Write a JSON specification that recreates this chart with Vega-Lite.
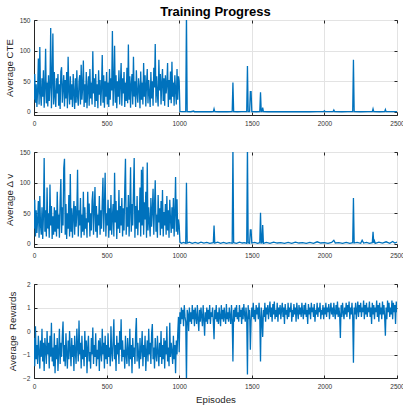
{
"$schema":"https://vega.github.io/schema/vega-lite/v6.json",
"padding":{"left":3,"top":5,"right":0,"bottom":2},
"background":"white",
"spacing":37,
"bounds":"flush",
"datasets":{
"cte":[{"e":0,"v":20},{"e":5,"v":62},{"e":10,"v":15},{"e":15,"v":45},{"e":20,"v":8},{"e":25,"v":35},{"e":30,"v":87},{"e":35,"v":12},{"e":40,"v":106},{"e":45,"v":30},
{"e":50,"v":10},{"e":55,"v":55},{"e":60,"v":25},{"e":65,"v":68},{"e":70,"v":7},{"e":75,"v":40},{"e":80,"v":103},{"e":85,"v":14},{"e":90,"v":48},{"e":95,"v":9},
{"e":100,"v":60},{"e":105,"v":18},{"e":110,"v":42},{"e":115,"v":137},{"e":120,"v":6},{"e":125,"v":50},{"e":130,"v":128},{"e":135,"v":12},{"e":140,"v":65},{"e":145,"v":25},
{"e":150,"v":8},{"e":155,"v":55},{"e":160,"v":30},{"e":165,"v":62},{"e":170,"v":10},{"e":175,"v":45},{"e":180,"v":5},{"e":185,"v":66},{"e":190,"v":73},{"e":195,"v":15},
{"e":200,"v":40},{"e":205,"v":60},{"e":210,"v":9},{"e":215,"v":52},{"e":220,"v":22},{"e":225,"v":65},{"e":230,"v":6},{"e":235,"v":90},{"e":240,"v":35},{"e":245,"v":12},
{"e":250,"v":58},{"e":255,"v":20},{"e":260,"v":45},{"e":265,"v":8},{"e":270,"v":62},{"e":275,"v":30},{"e":280,"v":5},{"e":285,"v":55},{"e":290,"v":15},{"e":295,"v":68},
{"e":300,"v":25},{"e":305,"v":10},{"e":310,"v":50},{"e":315,"v":60},{"e":320,"v":12},{"e":325,"v":77},{"e":330,"v":20},{"e":335,"v":40},{"e":340,"v":84},{"e":345,"v":8},
{"e":350,"v":45},{"e":355,"v":15},{"e":360,"v":65},{"e":365,"v":6},{"e":370,"v":38},{"e":375,"v":58},{"e":380,"v":10},{"e":385,"v":70},{"e":390,"v":22},{"e":395,"v":48},
{"e":400,"v":12},{"e":405,"v":99},{"e":410,"v":30},{"e":415,"v":55},{"e":420,"v":8},{"e":425,"v":62},{"e":430,"v":18},{"e":435,"v":45},{"e":440,"v":6},{"e":445,"v":68},
{"e":450,"v":28},{"e":455,"v":52},{"e":460,"v":10},{"e":465,"v":40},{"e":470,"v":93},{"e":475,"v":15},{"e":480,"v":60},{"e":485,"v":7},{"e":490,"v":50},{"e":495,"v":25},
{"e":500,"v":65},{"e":505,"v":12},{"e":510,"v":48},{"e":515,"v":8},{"e":520,"v":70},{"e":525,"v":20},{"e":530,"v":55},{"e":535,"v":35},{"e":540,"v":132},{"e":545,"v":10},
{"e":550,"v":42},{"e":555,"v":108},{"e":560,"v":15},{"e":565,"v":60},{"e":570,"v":6},{"e":575,"v":50},{"e":580,"v":25},{"e":585,"v":68},{"e":590,"v":12},{"e":595,"v":45},
{"e":600,"v":80},{"e":605,"v":10},{"e":610,"v":55},{"e":615,"v":30},{"e":620,"v":65},{"e":625,"v":8},{"e":630,"v":48},{"e":635,"v":18},{"e":640,"v":72},{"e":645,"v":14},
{"e":650,"v":110},{"e":655,"v":20},{"e":660,"v":58},{"e":665,"v":7},{"e":670,"v":45},{"e":675,"v":62},{"e":680,"v":12},{"e":685,"v":90},{"e":690,"v":25},{"e":695,"v":50},
{"e":700,"v":8},{"e":705,"v":68},{"e":710,"v":30},{"e":715,"v":15},{"e":720,"v":55},{"e":725,"v":40},{"e":730,"v":6},{"e":735,"v":66},{"e":740,"v":20},{"e":745,"v":48},
{"e":750,"v":12},{"e":755,"v":80},{"e":760,"v":25},{"e":765,"v":60},{"e":770,"v":9},{"e":775,"v":45},{"e":780,"v":70},{"e":785,"v":14},{"e":790,"v":52},{"e":795,"v":30},
{"e":800,"v":8},{"e":805,"v":65},{"e":810,"v":22},{"e":815,"v":50},{"e":820,"v":10},{"e":825,"v":72},{"e":830,"v":40},{"e":835,"v":111},{"e":840,"v":15},{"e":845,"v":58},
{"e":850,"v":28},{"e":855,"v":9},{"e":860,"v":85},{"e":865,"v":35},{"e":870,"v":62},{"e":875,"v":12},{"e":880,"v":48},{"e":885,"v":70},{"e":890,"v":18},{"e":895,"v":55},
{"e":900,"v":10},{"e":905,"v":60},{"e":910,"v":30},{"e":915,"v":45},{"e":920,"v":80},{"e":925,"v":8},{"e":930,"v":52},{"e":935,"v":20},{"e":940,"v":66},{"e":945,"v":14},
{"e":950,"v":82},{"e":955,"v":25},{"e":960,"v":48},{"e":965,"v":10},{"e":970,"v":60},{"e":975,"v":35},{"e":980,"v":12},{"e":985,"v":70},{"e":990,"v":20},{"e":995,"v":58},
{"e":1000,"v":50},{"e":1005,"v":1},{"e":1020,"v":0.5},{"e":1045,"v":0.5},{"e":1050,"v":160},{"e":1055,"v":0.5},{"e":1080,"v":0.3},{"e":1100,"v":1.5},{"e":1105,"v":0.3},{"e":1130,"v":0.5},{"e":1160,"v":0.3},{"e":1190,"v":0.5},{"e":1220,"v":0.3},{"e":1235,"v":0.5},{"e":1240,"v":5},{"e":1245,"v":0.5},{"e":1270,"v":0.3},{"e":1300,"v":0.6},{"e":1330,"v":0.3},{"e":1365,"v":0.5},{"e":1370,"v":48},{"e":1375,"v":0.5},{"e":1400,"v":0.3},{"e":1430,"v":0.6},{"e":1465,"v":0.5},{"e":1470,"v":75},{"e":1475,"v":0.4},{"e":1485,"v":0.5},{"e":1490,"v":33},{"e":1495,"v":33},{"e":1500,"v":0.5},{"e":1530,"v":0.3},{"e":1555,"v":0.5},{"e":1560,"v":32},{"e":1565,"v":0.5},{"e":1570,"v":0.5},{"e":1575,"v":7},{"e":1580,"v":0.5},{"e":1610,"v":0.3},{"e":1650,"v":0.5},{"e":1700,"v":0.3},{"e":1750,"v":0.6},{"e":1800,"v":0.3},{"e":1850,"v":0.5},{"e":1900,"v":0.3},{"e":1950,"v":0.5},{"e":1995,"v":0.5},{"e":2000,"v":2},{"e":2005,"v":0.5},{"e":2060,"v":0.5},{"e":2065,"v":3},{"e":2070,"v":0.5},{"e":2120,"v":0.3},{"e":2160,"v":0.5},{"e":2195,"v":0.5},{"e":2200,"v":85},{"e":2205,"v":0.5},{"e":2250,"v":0.3},{"e":2300,"v":0.5},{"e":2330,"v":0.5},{"e":2335,"v":5},{"e":2340,"v":0.5},{"e":2380,"v":0.3},{"e":2415,"v":0.5},{"e":2420,"v":4},{"e":2425,"v":0.5},{"e":2460,"v":0.4},{"e":2500,"v":0.5}],
"dv":[{"e":0,"v":25},{"e":5,"v":72},{"e":10,"v":12},{"e":15,"v":55},{"e":20,"v":18},{"e":25,"v":40},{"e":30,"v":70},{"e":35,"v":10},{"e":40,"v":78},{"e":45,"v":30},
{"e":50,"v":15},{"e":55,"v":60},{"e":60,"v":8},{"e":65,"v":45},{"e":70,"v":140},{"e":75,"v":20},{"e":80,"v":55},{"e":85,"v":12},{"e":90,"v":92},{"e":95,"v":25},
{"e":100,"v":50},{"e":105,"v":10},{"e":110,"v":97},{"e":115,"v":30},{"e":120,"v":62},{"e":125,"v":8},{"e":130,"v":45},{"e":135,"v":15},{"e":140,"v":60},{"e":145,"v":20},
{"e":150,"v":55},{"e":155,"v":12},{"e":160,"v":85},{"e":165,"v":25},{"e":170,"v":48},{"e":175,"v":10},{"e":180,"v":70},{"e":185,"v":106},{"e":190,"v":18},{"e":195,"v":60},
{"e":200,"v":30},{"e":205,"v":124},{"e":210,"v":139},{"e":215,"v":15},{"e":220,"v":65},{"e":225,"v":8},{"e":230,"v":50},{"e":235,"v":25},{"e":240,"v":80},{"e":245,"v":12},
{"e":250,"v":114},{"e":255,"v":20},{"e":260,"v":58},{"e":265,"v":10},{"e":270,"v":45},{"e":275,"v":70},{"e":280,"v":15},{"e":285,"v":62},{"e":290,"v":28},{"e":295,"v":50},
{"e":300,"v":121},{"e":305,"v":12},{"e":310,"v":55},{"e":315,"v":30},{"e":320,"v":75},{"e":325,"v":10},{"e":330,"v":48},{"e":335,"v":20},{"e":340,"v":85},{"e":345,"v":14},
{"e":350,"v":60},{"e":355,"v":25},{"e":360,"v":42},{"e":365,"v":10},{"e":370,"v":85},{"e":375,"v":35},{"e":380,"v":66},{"e":385,"v":12},{"e":390,"v":50},{"e":395,"v":22},
{"e":400,"v":70},{"e":405,"v":86},{"e":410,"v":15},{"e":415,"v":55},{"e":420,"v":93},{"e":425,"v":20},{"e":430,"v":62},{"e":435,"v":10},{"e":440,"v":48},{"e":445,"v":30},
{"e":450,"v":78},{"e":455,"v":15},{"e":460,"v":55},{"e":465,"v":25},{"e":470,"v":68},{"e":475,"v":108},{"e":480,"v":20},{"e":485,"v":60},{"e":490,"v":116},{"e":495,"v":12},
{"e":500,"v":50},{"e":505,"v":30},{"e":510,"v":72},{"e":515,"v":10},{"e":520,"v":58},{"e":525,"v":22},{"e":530,"v":80},{"e":535,"v":15},{"e":540,"v":45},{"e":545,"v":65},
{"e":550,"v":12},{"e":555,"v":116},{"e":560,"v":35},{"e":565,"v":70},{"e":570,"v":8},{"e":575,"v":55},{"e":580,"v":25},{"e":585,"v":88},{"e":590,"v":18},{"e":595,"v":62},
{"e":600,"v":30},{"e":605,"v":75},{"e":610,"v":12},{"e":615,"v":58},{"e":620,"v":22},{"e":625,"v":90},{"e":630,"v":139},{"e":635,"v":15},{"e":640,"v":60},{"e":645,"v":28},
{"e":650,"v":80},{"e":655,"v":12},{"e":660,"v":55},{"e":665,"v":125},{"e":670,"v":20},{"e":675,"v":65},{"e":680,"v":30},{"e":685,"v":85},{"e":690,"v":140},{"e":695,"v":10},
{"e":700,"v":62},{"e":705,"v":25},{"e":710,"v":78},{"e":715,"v":14},{"e":720,"v":55},{"e":725,"v":35},{"e":730,"v":92},{"e":735,"v":12},{"e":740,"v":121},{"e":745,"v":30},
{"e":750,"v":126},{"e":755,"v":15},{"e":760,"v":68},{"e":765,"v":40},{"e":770,"v":85},{"e":775,"v":10},{"e":780,"v":133},{"e":785,"v":22},{"e":790,"v":60},{"e":795,"v":35},
{"e":800,"v":12},{"e":805,"v":75},{"e":810,"v":28},{"e":815,"v":55},{"e":820,"v":90},{"e":825,"v":15},{"e":830,"v":62},{"e":835,"v":104},{"e":840,"v":20},{"e":845,"v":48},
{"e":850,"v":10},{"e":855,"v":80},{"e":860,"v":35},{"e":865,"v":58},{"e":870,"v":14},{"e":875,"v":70},{"e":880,"v":25},{"e":885,"v":88},{"e":890,"v":12},{"e":895,"v":52},
{"e":900,"v":30},{"e":905,"v":65},{"e":910,"v":15},{"e":915,"v":78},{"e":920,"v":22},{"e":925,"v":55},{"e":930,"v":10},{"e":935,"v":72},{"e":940,"v":40},{"e":945,"v":18},
{"e":950,"v":60},{"e":955,"v":25},{"e":960,"v":75},{"e":965,"v":12},{"e":970,"v":50},{"e":975,"v":109},{"e":980,"v":20},{"e":985,"v":73},{"e":990,"v":15},{"e":995,"v":40},
{"e":1000,"v":30},{"e":1005,"v":3},{"e":1015,"v":1},{"e":1030,"v":2.5},{"e":1045,"v":1},{"e":1050,"v":100},{"e":1055,"v":1.5},{"e":1070,"v":3},{"e":1090,"v":1},{"e":1110,"v":2.5},{"e":1130,"v":1},{"e":1150,"v":3},{"e":1170,"v":1.5},{"e":1190,"v":2.5},{"e":1210,"v":1},{"e":1235,"v":2},{"e":1240,"v":30},{"e":1245,"v":1.5},{"e":1265,"v":3},{"e":1285,"v":1},{"e":1305,"v":2.5},{"e":1325,"v":1},{"e":1345,"v":2},{"e":1365,"v":1},{"e":1370,"v":160},{"e":1375,"v":2},{"e":1395,"v":1},{"e":1415,"v":3},{"e":1435,"v":1.5},{"e":1450,"v":2},{"e":1465,"v":1},{"e":1470,"v":160},{"e":1475,"v":2},{"e":1485,"v":1},{"e":1490,"v":23},{"e":1495,"v":23},{"e":1500,"v":1.5},{"e":1520,"v":2.5},{"e":1540,"v":1},{"e":1555,"v":2},{"e":1560,"v":51},{"e":1565,"v":1.5},{"e":1570,"v":2},{"e":1575,"v":31},{"e":1580,"v":1},{"e":1600,"v":2.5},{"e":1625,"v":1},{"e":1650,"v":3},{"e":1675,"v":1.5},{"e":1700,"v":2},{"e":1725,"v":1},{"e":1750,"v":2.5},{"e":1775,"v":1},{"e":1800,"v":3},{"e":1825,"v":1.5},{"e":1850,"v":2},{"e":1875,"v":1},{"e":1900,"v":2.5},{"e":1925,"v":1},{"e":1950,"v":3.5},{"e":1975,"v":1.5},{"e":2000,"v":2},{"e":2025,"v":1},{"e":2050,"v":2.5},{"e":2065,"v":6},{"e":2075,"v":1.5},{"e":2100,"v":2},{"e":2125,"v":1},{"e":2150,"v":2.5},{"e":2175,"v":1},{"e":2195,"v":2},{"e":2200,"v":75},{"e":2205,"v":1.5},{"e":2225,"v":2.5},{"e":2250,"v":1},{"e":2260,"v":6},{"e":2270,"v":1.5},{"e":2290,"v":2.5},{"e":2310,"v":1},{"e":2330,"v":2},{"e":2335,"v":20},{"e":2340,"v":1.5},{"e":2345,"v":5},{"e":2350,"v":1},{"e":2375,"v":3},{"e":2400,"v":1.5},{"e":2425,"v":3.5},{"e":2450,"v":1},{"e":2470,"v":4},{"e":2485,"v":1.5},{"e":2500,"v":3}],
"rw":[{"e":0,"v":-0.3},{"e":5,"v":-1.5},{"e":10,"v":0.2},{"e":15,"v":-1.2},{"e":20,"v":-0.6},{"e":25,"v":-1.4},{"e":30,"v":-0.2},{"e":35,"v":-0.9},{"e":40,"v":-1.6},{"e":45,"v":-0.4},
{"e":50,"v":-1.1},{"e":55,"v":0.1},{"e":60,"v":-1.3},{"e":65,"v":-0.5},{"e":70,"v":-1.7},{"e":75,"v":-0.3},{"e":80,"v":-0.8},{"e":85,"v":-1.4},{"e":90,"v":0.0},{"e":95,"v":-1.0},
{"e":100,"v":-0.5},{"e":105,"v":-1.6},{"e":110,"v":-0.2},{"e":115,"v":-1.1},{"e":120,"v":0.35},{"e":125,"v":-1.3},{"e":130,"v":-0.7},{"e":135,"v":-1.5},{"e":140,"v":-0.1},{"e":145,"v":-1.8},
{"e":150,"v":-0.6},{"e":155,"v":-1.2},{"e":160,"v":-0.3},{"e":165,"v":-1.7},{"e":170,"v":-0.9},{"e":175,"v":0.1},{"e":180,"v":-1.4},{"e":185,"v":-0.5},{"e":190,"v":-1.1},{"e":195,"v":-0.2},
{"e":200,"v":0.4},{"e":205,"v":-1.3},{"e":210,"v":-0.6},{"e":215,"v":-1.5},{"e":220,"v":-0.1},{"e":225,"v":-1.0},{"e":230,"v":-1.6},{"e":235,"v":-0.4},{"e":240,"v":-1.2},{"e":245,"v":0.0},
{"e":250,"v":-0.8},{"e":255,"v":-1.5},{"e":260,"v":-0.3},{"e":265,"v":-1.1},{"e":270,"v":-0.6},{"e":275,"v":-1.7},{"e":280,"v":-0.2},{"e":285,"v":-0.9},{"e":290,"v":-1.4},{"e":295,"v":0.1},
{"e":300,"v":-0.7},{"e":305,"v":-1.3},{"e":310,"v":0.45},{"e":315,"v":-1.0},{"e":320,"v":-0.5},{"e":325,"v":-1.6},{"e":330,"v":-0.2},{"e":335,"v":-1.2},{"e":340,"v":-0.8},{"e":345,"v":-1.5},
{"e":350,"v":0.0},{"e":355,"v":-1.1},{"e":360,"v":-0.4},{"e":365,"v":-1.8},{"e":370,"v":-0.7},{"e":375,"v":-0.2},{"e":380,"v":-1.3},{"e":385,"v":-0.9},{"e":390,"v":-1.6},{"e":395,"v":-0.3},
{"e":400,"v":-1.0},{"e":405,"v":0.15},{"e":410,"v":-1.4},{"e":415,"v":-0.6},{"e":420,"v":-1.1},{"e":425,"v":-0.1},{"e":430,"v":-1.5},{"e":435,"v":-0.8},{"e":440,"v":-1.2},{"e":445,"v":-0.4},
{"e":450,"v":-1.7},{"e":455,"v":-0.3},{"e":460,"v":-0.9},{"e":465,"v":-1.3},{"e":470,"v":0.1},{"e":475,"v":-1.0},{"e":480,"v":-0.5},{"e":485,"v":-1.6},{"e":490,"v":-0.2},{"e":495,"v":-1.2},
{"e":500,"v":-0.6},{"e":505,"v":-1.4},{"e":510,"v":-0.1},{"e":515,"v":-1.1},{"e":520,"v":-0.7},{"e":525,"v":-1.5},{"e":530,"v":0.2},{"e":535,"v":-0.9},{"e":540,"v":-1.3},{"e":545,"v":-0.4},
{"e":550,"v":0.5},{"e":555,"v":-1.2},{"e":560,"v":-0.6},{"e":565,"v":-1.7},{"e":570,"v":-0.2},{"e":575,"v":-1.0},{"e":580,"v":-0.5},{"e":585,"v":-1.4},{"e":590,"v":0.0},{"e":595,"v":-0.8},
{"e":600,"v":0.5},{"e":605,"v":-1.3},{"e":610,"v":-0.4},{"e":615,"v":-1.1},{"e":620,"v":-0.8},{"e":625,"v":-1.6},{"e":630,"v":-0.2},{"e":635,"v":-1.0},{"e":640,"v":-1.4},{"e":645,"v":-0.3},
{"e":650,"v":-0.9},{"e":655,"v":-1.5},{"e":660,"v":0.1},{"e":665,"v":-1.2},{"e":670,"v":-0.6},{"e":675,"v":-1.8},{"e":680,"v":-0.3},{"e":685,"v":-1.1},{"e":690,"v":-0.7},{"e":695,"v":-1.4},
{"e":700,"v":-0.1},{"e":705,"v":0.55},{"e":710,"v":-1.3},{"e":715,"v":-0.5},{"e":720,"v":-1.0},{"e":725,"v":-1.6},{"e":730,"v":-0.3},{"e":735,"v":-1.2},{"e":740,"v":-0.8},{"e":745,"v":0.0},
{"e":750,"v":-1.5},{"e":755,"v":-0.6},{"e":760,"v":-1.1},{"e":765,"v":-0.2},{"e":770,"v":-1.7},{"e":775,"v":-0.9},{"e":780,"v":-0.4},{"e":785,"v":-1.3},{"e":790,"v":0.1},{"e":795,"v":-1.0},
{"e":800,"v":-0.5},{"e":805,"v":-1.4},{"e":810,"v":-0.1},{"e":815,"v":0.3},{"e":820,"v":-1.2},{"e":825,"v":-0.7},{"e":830,"v":-1.6},{"e":835,"v":-0.3},{"e":840,"v":-1.0},{"e":845,"v":-1.3},
{"e":850,"v":-0.2},{"e":855,"v":-0.9},{"e":860,"v":-1.5},{"e":865,"v":-0.5},{"e":870,"v":-1.1},{"e":875,"v":0.0},{"e":880,"v":-1.4},{"e":885,"v":-0.6},{"e":890,"v":-1.2},{"e":895,"v":-0.3},
{"e":900,"v":-1.6},{"e":905,"v":-0.4},{"e":910,"v":-1.0},{"e":915,"v":0.2},{"e":920,"v":-1.3},{"e":925,"v":-0.7},{"e":930,"v":-1.5},{"e":935,"v":0.35},{"e":940,"v":-1.1},{"e":945,"v":-0.5},
{"e":950,"v":-0.9},{"e":955,"v":-1.4},{"e":960,"v":-0.2},{"e":965,"v":-1.2},{"e":970,"v":-0.6},{"e":975,"v":-1.8},{"e":980,"v":-0.4},{"e":985,"v":-1.0},{"e":990,"v":-0.1},{"e":995,"v":0.6},
{"e":1000,"v":-0.9},
{"e":1005,"v":0.8},{"e":1010,"v":0.3},{"e":1015,"v":1.0},{"e":1020,"v":0.5},{"e":1025,"v":0.9},{"e":1030,"v":0.2},{"e":1035,"v":1.1},{"e":1040,"v":0.6},{"e":1045,"v":0.4},{"e":1050,"v":-2.2},
{"e":1055,"v":0.9},{"e":1060,"v":0.7},{"e":1065,"v":0.0},{"e":1070,"v":1.0},{"e":1075,"v":0.4},{"e":1080,"v":0.8},{"e":1085,"v":0.3},{"e":1090,"v":1.1},{"e":1095,"v":0.5},{"e":1100,"v":0.9},
{"e":1105,"v":0.2},{"e":1110,"v":1.0},{"e":1115,"v":0.6},{"e":1120,"v":0.3},{"e":1125,"v":1.1},{"e":1130,"v":0.5},{"e":1135,"v":0.0},{"e":1140,"v":0.9},{"e":1145,"v":0.4},{"e":1150,"v":1.0},
{"e":1155,"v":0.6},{"e":1160,"v":0.2},{"e":1165,"v":1.1},{"e":1170,"v":0.5},{"e":1175,"v":-0.2},{"e":1180,"v":0.8},{"e":1185,"v":0.4},{"e":1190,"v":1.0},{"e":1195,"v":0.3},{"e":1200,"v":0.9},
{"e":1205,"v":0.5},{"e":1210,"v":1.1},{"e":1215,"v":0.3},{"e":1220,"v":0.8},{"e":1225,"v":0.6},{"e":1230,"v":1.0},{"e":1235,"v":0.4},{"e":1240,"v":-0.35},{"e":1245,"v":0.9},{"e":1250,"v":0.5},
{"e":1255,"v":1.1},{"e":1260,"v":0.4},{"e":1265,"v":0.8},{"e":1270,"v":0.3},{"e":1275,"v":1.0},{"e":1280,"v":0.6},{"e":1285,"v":0.2},{"e":1290,"v":1.1},{"e":1295,"v":0.5},{"e":1300,"v":0.9},
{"e":1305,"v":0.4},{"e":1310,"v":1.0},{"e":1315,"v":0.6},{"e":1320,"v":0.3},{"e":1325,"v":1.15},{"e":1330,"v":0.5},{"e":1335,"v":0.8},{"e":1340,"v":0.4},{"e":1345,"v":1.0},{"e":1350,"v":0.6},
{"e":1355,"v":0.3},{"e":1360,"v":1.1},{"e":1365,"v":0.5},{"e":1370,"v":-1.3},{"e":1375,"v":0.9},{"e":1380,"v":0.4},{"e":1385,"v":1.0},{"e":1390,"v":0.6},{"e":1395,"v":1.1},{"e":1400,"v":0.5},
{"e":1405,"v":0.8},{"e":1410,"v":0.4},{"e":1415,"v":1.1},{"e":1420,"v":0.6},{"e":1425,"v":0.9},{"e":1430,"v":0.3},{"e":1435,"v":1.0},{"e":1440,"v":0.5},{"e":1445,"v":1.15},{"e":1450,"v":0.7},
{"e":1455,"v":0.4},{"e":1460,"v":1.0},{"e":1465,"v":0.6},{"e":1470,"v":-1.85},{"e":1475,"v":1.1},{"e":1480,"v":0.5},{"e":1485,"v":0.9},{"e":1490,"v":-0.8},{"e":1495,"v":0.4},{"e":1500,"v":1.0},
{"e":1505,"v":0.6},{"e":1510,"v":1.2},{"e":1515,"v":0.5},{"e":1520,"v":0.9},{"e":1525,"v":0.4},{"e":1530,"v":1.1},{"e":1535,"v":0.7},{"e":1540,"v":1.0},{"e":1545,"v":0.5},{"e":1550,"v":1.2},
{"e":1555,"v":0.6},{"e":1560,"v":-1.3},{"e":1565,"v":1.0},{"e":1570,"v":0.5},{"e":1575,"v":-0.25},{"e":1580,"v":0.9},{"e":1585,"v":0.6},{"e":1590,"v":1.2},{"e":1595,"v":0.4},{"e":1600,"v":1.0},
{"e":1605,"v":0.7},{"e":1610,"v":1.1},{"e":1615,"v":0.5},{"e":1620,"v":0.9},{"e":1625,"v":1.25},{"e":1630,"v":0.6},{"e":1635,"v":1.0},{"e":1640,"v":0.4},{"e":1645,"v":1.15},{"e":1650,"v":0.7},
{"e":1655,"v":1.25},{"e":1660,"v":0.5},{"e":1665,"v":0.9},{"e":1670,"v":0.6},{"e":1675,"v":1.2},{"e":1680,"v":0.4},{"e":1685,"v":1.0},{"e":1690,"v":0.7},{"e":1695,"v":1.1},{"e":1700,"v":0.5},
{"e":1705,"v":0.9},{"e":1710,"v":1.2},{"e":1715,"v":0.6},{"e":1720,"v":1.0},{"e":1725,"v":0.3},{"e":1730,"v":1.15},{"e":1735,"v":0.7},{"e":1740,"v":0.9},{"e":1745,"v":0.5},{"e":1750,"v":1.2},
{"e":1755,"v":0.6},{"e":1760,"v":1.0},{"e":1765,"v":0.8},{"e":1770,"v":1.2},{"e":1775,"v":0.4},{"e":1780,"v":0.9},{"e":1785,"v":0.6},{"e":1790,"v":1.15},{"e":1795,"v":0.7},{"e":1800,"v":1.0},
{"e":1805,"v":0.4},{"e":1810,"v":1.2},{"e":1815,"v":0.8},{"e":1820,"v":0.5},{"e":1825,"v":1.1},{"e":1830,"v":0.7},{"e":1835,"v":1.0},{"e":1840,"v":0.6},{"e":1845,"v":1.2},{"e":1850,"v":0.8},
{"e":1855,"v":0.5},{"e":1860,"v":1.1},{"e":1865,"v":0.7},{"e":1870,"v":1.2},{"e":1875,"v":0.6},{"e":1880,"v":0.9},{"e":1885,"v":0.3},{"e":1890,"v":1.15},{"e":1895,"v":0.7},{"e":1900,"v":1.0},
{"e":1905,"v":0.5},{"e":1910,"v":1.2},{"e":1915,"v":0.8},{"e":1920,"v":1.0},{"e":1925,"v":0.6},{"e":1930,"v":1.15},{"e":1935,"v":0.4},{"e":1940,"v":0.9},{"e":1945,"v":0.7},{"e":1950,"v":1.2},
{"e":1955,"v":0.6},{"e":1960,"v":1.0},{"e":1965,"v":0.8},{"e":1970,"v":1.2},{"e":1975,"v":0.5},{"e":1980,"v":0.9},{"e":1985,"v":0.7},{"e":1990,"v":1.1},{"e":1995,"v":0.5},{"e":2000,"v":1.0},
{"e":2005,"v":0.7},{"e":2010,"v":1.2},{"e":2015,"v":0.6},{"e":2020,"v":1.0},{"e":2025,"v":0.8},{"e":2030,"v":1.15},{"e":2035,"v":0.5},{"e":2040,"v":0.9},{"e":2045,"v":1.2},{"e":2050,"v":0.7},
{"e":2055,"v":1.0},{"e":2060,"v":0.6},{"e":2065,"v":1.2},{"e":2070,"v":0.8},{"e":2075,"v":0.5},{"e":2080,"v":1.1},{"e":2085,"v":0.7},{"e":2090,"v":1.25},{"e":2095,"v":0.6},{"e":2100,"v":1.0},
{"e":2105,"v":0.7},{"e":2110,"v":-0.3},{"e":2115,"v":1.1},{"e":2120,"v":0.6},{"e":2125,"v":1.2},{"e":2130,"v":0.8},{"e":2135,"v":0.5},{"e":2140,"v":1.0},{"e":2145,"v":0.7},{"e":2150,"v":1.2},
{"e":2155,"v":0.6},{"e":2160,"v":1.1},{"e":2165,"v":0.8},{"e":2170,"v":1.25},{"e":2175,"v":0.5},{"e":2180,"v":1.0},{"e":2185,"v":0.7},{"e":2190,"v":1.2},{"e":2195,"v":0.6},{"e":2200,"v":-1.35},
{"e":2205,"v":1.0},{"e":2210,"v":0.7},{"e":2215,"v":1.2},{"e":2220,"v":0.5},{"e":2225,"v":0.9},{"e":2230,"v":1.25},{"e":2235,"v":0.6},{"e":2240,"v":1.1},{"e":2245,"v":0.8},{"e":2250,"v":1.2},
{"e":2255,"v":0.6},{"e":2260,"v":1.0},{"e":2265,"v":0.8},{"e":2270,"v":1.3},{"e":2275,"v":0.5},{"e":2280,"v":1.1},{"e":2285,"v":0.7},{"e":2290,"v":1.2},{"e":2295,"v":0.6},{"e":2300,"v":1.0},
{"e":2305,"v":0.8},{"e":2310,"v":1.25},{"e":2315,"v":0.6},{"e":2320,"v":1.0},{"e":2325,"v":0.3},{"e":2330,"v":1.2},{"e":2335,"v":0.7},{"e":2340,"v":1.1},{"e":2345,"v":0.5},{"e":2350,"v":1.0},
{"e":2355,"v":0.8},{"e":2360,"v":1.3},{"e":2365,"v":0.6},{"e":2370,"v":1.1},{"e":2375,"v":0.4},{"e":2380,"v":1.2},{"e":2385,"v":0.7},{"e":2390,"v":1.0},{"e":2395,"v":0.5},{"e":2400,"v":1.25},
{"e":2405,"v":0.7},{"e":2410,"v":1.1},{"e":2415,"v":0.6},{"e":2420,"v":-0.2},{"e":2425,"v":1.0},{"e":2430,"v":0.5},{"e":2435,"v":1.3},{"e":2440,"v":0.8},{"e":2445,"v":1.2},{"e":2450,"v":0.6},
{"e":2455,"v":1.0},{"e":2460,"v":0.7},{"e":2465,"v":1.3},{"e":2470,"v":0.5},{"e":2475,"v":1.2},{"e":2480,"v":0.8},{"e":2485,"v":1.1},{"e":2490,"v":0.3},{"e":2495,"v":1.25},{"e":2500,"v":0.8}]
},
"vconcat":[
{"width":363,"height":95,
 "title":{"text":"Training Progress","anchor":"middle","fontSize":13,"fontWeight":"bold","color":"#000000","offset":-1.5},
 "layer":[
  {"data":{"name":"cte"},"mark":{"type":"line","color":"#0072BD","strokeWidth":1.3,"clip":true},
   "encoding":{"x":{"field":"e","type":"quantitative","scale":{"domain":[0,2500],"nice":false},"axis":{"values":[0,500,1000,1500,2000,2500],"format":"d","title":null}},
               "y":{"field":"v","type":"quantitative","scale":{"domain":[-5,150],"nice":false,"zero":false},"axis":{"values":[0,50,100,150],"format":"d","title":"Average CTE"}}}},
  {"data":{"values":[{"e":0,"v":0}]},"mark":{"type":"point","opacity":0},
   "encoding":{"x":{"field":"e","type":"quantitative","scale":{"domain":[0,2500],"nice":false},"axis":{"orient":"top","values":[0,500,1000,1500,2000,2500],"labels":false,"grid":false,"domain":false,"title":null}},
               "y":{"field":"v","type":"quantitative","scale":{"domain":[-5,150],"nice":false,"zero":false},"axis":{"orient":"right","values":[0,50,100,150],"labels":false,"grid":false,"domain":false,"title":null}}}}
 ],
 "resolve":{"axis":{"x":"independent","y":"independent"}}
},
{"width":363,"height":95,
 "layer":[
  {"data":{"name":"dv"},"mark":{"type":"line","color":"#0072BD","strokeWidth":1.3,"clip":true},
   "encoding":{"x":{"field":"e","type":"quantitative","scale":{"domain":[0,2500],"nice":false},"axis":{"values":[0,500,1000,1500,2000,2500],"format":"d","title":null}},
               "y":{"field":"v","type":"quantitative","scale":{"domain":[-5,150],"nice":false,"zero":false},"axis":{"values":[0,50,100,150],"format":"d","title":"Average \u0394 v"}}}},
  {"data":{"values":[{"e":0,"v":0}]},"mark":{"type":"point","opacity":0},
   "encoding":{"x":{"field":"e","type":"quantitative","scale":{"domain":[0,2500],"nice":false},"axis":{"orient":"top","values":[0,500,1000,1500,2000,2500],"labels":false,"grid":false,"domain":false,"title":null}},
               "y":{"field":"v","type":"quantitative","scale":{"domain":[-5,150],"nice":false,"zero":false},"axis":{"orient":"right","values":[0,50,100,150],"labels":false,"grid":false,"domain":false,"title":null}}}}
 ],
 "resolve":{"axis":{"x":"independent","y":"independent"}}
},
{"width":363,"height":94,
 "layer":[
  {"data":{"name":"rw"},"mark":{"type":"line","color":"#0072BD","strokeWidth":1.3,"clip":true},
   "encoding":{"x":{"field":"e","type":"quantitative","scale":{"domain":[0,2500],"nice":false},"axis":{"values":[0,500,1000,1500,2000,2500],"format":"d","title":"Episodes"}},
               "y":{"field":"v","type":"quantitative","scale":{"domain":[-2,2],"nice":false,"zero":false},"axis":{"values":[-2,-1,0,1,2],"format":"d","title":"Average\u00a0 Rewards"}}}},
  {"data":{"values":[{"e":0,"v":0}]},"mark":{"type":"point","opacity":0},
   "encoding":{"x":{"field":"e","type":"quantitative","scale":{"domain":[0,2500],"nice":false},"axis":{"orient":"top","values":[0,500,1000,1500,2000,2500],"labels":false,"grid":false,"domain":false,"title":null}},
               "y":{"field":"v","type":"quantitative","scale":{"domain":[-2,2],"nice":false,"zero":false},"axis":{"orient":"right","values":[-2,-1,0,1,2],"labels":false,"grid":false,"domain":false,"title":null}}}}
 ],
 "resolve":{"axis":{"x":"independent","y":"independent"}}
}
],
"config":{
 "font":"Liberation Sans",
 "view":{"stroke":"#262626","strokeWidth":1},
 "axis":{"domainColor":"#262626","tickColor":"#262626","tickSize":-3,"labelFontSize":6.5,"labelColor":"#333333","labelFlush":false,"gridColor":"#e3e3e3","titleFontSize":9.7,"titleFontWeight":"normal","titleColor":"#262626","titlePadding":5,"labelFont":"Liberation Sans","titleFont":"Liberation Sans"},
 "axisX":{"labelPadding":8},
 "axisY":{"labelPadding":7},
 "title":{"font":"Liberation Sans"}
}
}
